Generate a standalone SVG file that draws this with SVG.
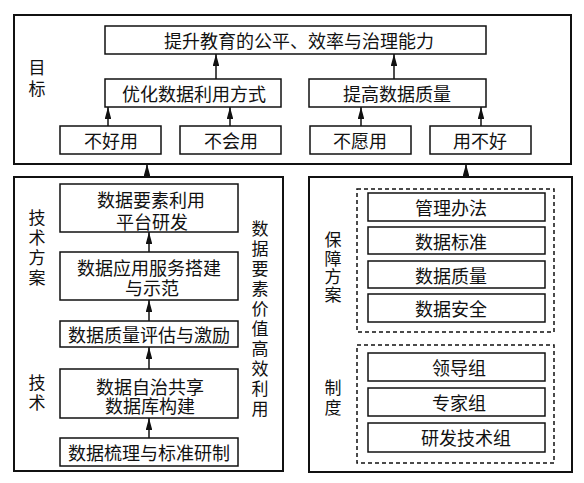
<svg xmlns="http://www.w3.org/2000/svg" width="584" height="483" viewBox="0 0 584 483">
<style>
text{font-family:"Noto Sans CJK SC","Noto Sans CJK JP",sans-serif;font-size:18px;fill:#111;text-anchor:middle;dominant-baseline:central}
.v{font-size:17px;writing-mode:vertical-rl;text-orientation:upright}
.outer{fill:none;stroke:#111;stroke-width:2}
.box{fill:#fff;stroke:#111;stroke-width:1.5}
.dash{fill:none;stroke:#111;stroke-width:1.5;stroke-dasharray:4 3}
.conn{stroke:#111;stroke-width:1.5;fill:none;marker-end:url(#ah)}
</style>
<defs>
<marker id="ah" viewBox="0 0 10 10" refX="10" refY="5" markerWidth="8" markerHeight="4.4" markerUnits="strokeWidth" orient="auto" preserveAspectRatio="none">
<path d="M0,0 L10,5 L0,10 Z" fill="#111"/>
</marker>
</defs>
<rect width="584" height="483" fill="#fff"/>
<g id="frames">
<rect class="outer" x="14" y="15" width="557" height="149"/>
<rect class="outer" x="14" y="177" width="269" height="294"/>
<rect class="outer" x="309" y="177" width="263" height="295"/>
<rect class="dash" x="357" y="189" width="197" height="143"/>
<rect class="dash" x="357" y="345" width="197" height="118"/>
</g>
<g id="labels">
<text class="v" x="37" y="80.5" letter-spacing="4">目标</text>
<text class="v" x="37" y="249.5" letter-spacing="3">技术方案</text>
<text class="v" x="37" y="394.5" letter-spacing="3">技术</text>
<text class="v" x="333" y="268" letter-spacing="1.3">保障方案</text>
<text class="v" x="333" y="399.5" letter-spacing="3">制度</text>
<text class="v" x="260" y="320.5" letter-spacing="3">数据要素价值高效利用</text>
</g>
<g id="n-goal"><rect class="box" x="105" y="26" width="381" height="28"/><text x="299" y="40">提升教育的公平、效率与治理能力</text></g>
<g id="n-opt"><rect class="box" x="105" y="79" width="176" height="28"/><text x="194" y="93">优化数据利用方式</text></g>
<g id="n-qual"><rect class="box" x="309" y="79" width="177" height="28"/><text x="397" y="93">提高数据质量</text></g>
<g id="n-b1"><rect class="box" x="60" y="126" width="101" height="28"/><text x="111" y="140">不好用</text></g>
<g id="n-b2"><rect class="box" x="180" y="126" width="101" height="28"/><text x="231" y="140">不会用</text></g>
<g id="n-b3"><rect class="box" x="310" y="126" width="101" height="28"/><text x="360" y="140">不愿用</text></g>
<g id="n-b4"><rect class="box" x="430" y="126" width="101" height="28"/><text x="480" y="140">用不好</text></g>
<g id="n-t1"><rect class="box" x="60" y="184" width="178" height="48"/><text><tspan x="151" y="199">数据要素利用</tspan><tspan x="152" y="221">平台研发</tspan></text></g>
<g id="n-t2"><rect class="box" x="60" y="252" width="178" height="48"/><text><tspan x="149" y="267">数据应用服务搭建</tspan><tspan x="152" y="287">与示范</tspan></text></g>
<g id="n-t3"><rect class="box" x="60" y="321" width="178" height="26"/><text x="149" y="334">数据质量评估与激励</text></g>
<g id="n-t4"><rect class="box" x="60" y="369" width="178" height="49"/><text><tspan x="150" y="386">数据自治共享</tspan><tspan x="150" y="405">数据库构建</tspan></text></g>
<g id="n-t5"><rect class="box" x="60" y="438" width="178" height="28"/><text x="149" y="452">数据梳理与标准研制</text></g>
<g id="n-g1"><rect class="box" x="368" y="193" width="177" height="28"/><text x="451" y="207">管理办法</text></g>
<g id="n-g2"><rect class="box" x="368" y="227" width="177" height="27"/><text x="451" y="241">数据标准</text></g>
<g id="n-g3"><rect class="box" x="368" y="261" width="177" height="27"/><text x="451" y="275">数据质量</text></g>
<g id="n-g4"><rect class="box" x="368" y="294" width="177" height="28"/><text x="451" y="308">数据安全</text></g>
<g id="n-s1"><rect class="box" x="368" y="353" width="177" height="28"/><text x="459" y="367">领导组</text></g>
<g id="n-s2"><rect class="box" x="368" y="388" width="177" height="28"/><text x="459" y="402">专家组</text></g>
<g id="n-s3"><rect class="box" x="368" y="423" width="177" height="29"/><text x="466" y="437">研发技术组</text></g>
<g id="connectors">
<line class="conn" x1="216" y1="79" x2="216" y2="54"/>
<line class="conn" x1="394" y1="79" x2="394" y2="54"/>
<line class="conn" x1="108" y1="126" x2="108" y2="107"/>
<line class="conn" x1="230" y1="126" x2="230" y2="107"/>
<line class="conn" x1="361" y1="126" x2="361" y2="107"/>
<line class="conn" x1="481" y1="126" x2="481" y2="107"/>
<line class="conn" x1="147" y1="177" x2="147" y2="164"/>
<line class="conn" x1="466" y1="177" x2="466" y2="164"/>
<line class="conn" x1="149" y1="252" x2="149" y2="232"/>
<line class="conn" x1="149" y1="321" x2="149" y2="300"/>
<line class="conn" x1="149" y1="369" x2="149" y2="347"/>
<line class="conn" x1="149" y1="438" x2="149" y2="418"/>
</g>
</svg>
